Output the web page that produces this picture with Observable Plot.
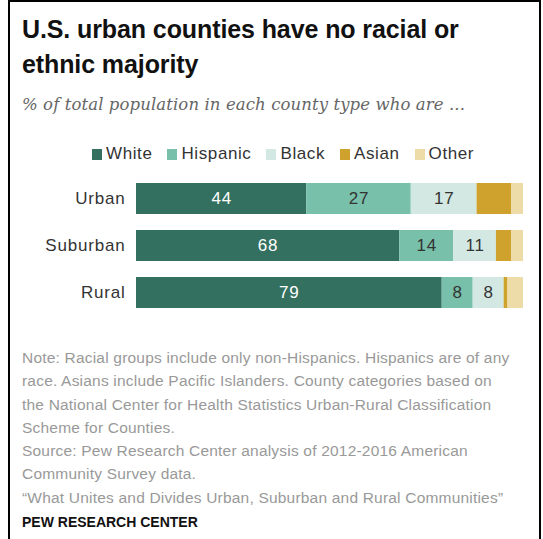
<!DOCTYPE html>
<html>
<head>
<meta charset="utf-8">
<script src="https://cdn.jsdelivr.net/npm/d3@7"></script>
<script src="https://cdn.jsdelivr.net/npm/@observablehq/plot@0.6"></script>
<style>
  html, body { margin: 0; padding: 0; background: #fff; }
  body { width: 543px; height: 539px; overflow: hidden; position: relative; font-family: "Liberation Sans", Arial, sans-serif; }
  #frame { position: absolute; left: 8px; top: 0px; width: 533px; height: 560px; border: 2px solid #000; box-sizing: border-box; }
  #title { position: absolute; left: 22px; top: 12px; font-size: 25px; font-weight: bold; line-height: 35px; color: #111; letter-spacing: -0.1px; }
  #subtitle { position: absolute; left: 22px; top: 95px; font-family: "DejaVu Serif", serif; font-style: italic; font-size: 16.5px; color: #666; letter-spacing: 0.1px; }
  #legend { position: absolute; left: 92px; top: 144px; font-size: 17px; letter-spacing: 0.6px; color: #333; display: flex; white-space: nowrap; }
  #legend .item { display: flex; align-items: center; margin-right: 15px; }
  #legend .sw { width: 10px; height: 11px; margin-right: 4px; display: inline-block; }
  #chart { position: absolute; left: 0; top: 167px; }
  #chart svg text { letter-spacing: 0.8px; }
  #notes { position: absolute; left: 22px; top: 346px; width: 520px; font-size: 15.5px; letter-spacing: 0.2px; line-height: 23.3px; color: #999; white-space: nowrap; }
  #pew { position: absolute; left: 22px; top: 514px; font-size: 14px; font-weight: bold; color: #111; }
</style>
</head>
<body>
<div id="frame"></div>
<div id="title">U.S. urban counties have no racial or<br>ethnic majority</div>
<div id="subtitle">% of total population in each county type who are ...</div>
<div id="legend"></div>
<div id="chart"></div>
<div id="notes"></div>
<div id="pew">PEW RESEARCH CENTER</div>
<script>
const counties = ["Urban", "Suburban", "Rural"];
const races = ["White", "Hispanic", "Black", "Asian", "Other"];
const colors = ["#34705f", "#78c0aa", "#d3e8e2", "#cfa22e", "#eedca8"];
const white = [44, 68, 79];
const hispanic = [27, 14, 8];
const black = [17, 11, 8];
const asian = [9, 4, 1];
const other = [3, 3, 4];
const labeled = ["White", "Hispanic", "Black"];
const noteLines = [
  "Note: Racial groups include only non-Hispanics. Hispanics are of any",
  "race. Asians include Pacific Islanders. County categories based on",
  "the National Center for Health Statistics Urban-Rural Classification",
  "Scheme for Counties.",
  "Source: Pew Research Center analysis of 2012-2016 American",
  "Community Survey data.",
  "\u201cWhat Unites and Divides Urban, Suburban and Rural Communities\u201d"
];

const series = [white, hispanic, black, asian, other];
const data = [];
counties.forEach((c, i) => {
  races.forEach((r, j) => data.push({county: c, race: r, value: series[j][i]}));
});

// legend
const legend = document.getElementById("legend");
races.forEach((r, j) => {
  const it = document.createElement("span");
  it.className = "item";
  it.innerHTML = `<span class="sw" style="background:${colors[j]}"></span>${r}`;
  legend.appendChild(it);
});

document.getElementById("notes").innerHTML = noteLines.join("<br>");

const chart = Plot.plot({
  width: 543,
  height: 157,
  marginLeft: 136,
  marginRight: 20,
  marginTop: 0,
  marginBottom: 0,
  style: {fontFamily: "Liberation Sans, Arial, sans-serif", fontSize: "17px", color: "#333", background: "transparent"},
  x: {domain: [0, 100], axis: null},
  y: {domain: counties, padding: 0.34, label: null, tickSize: 0, tickPadding: 10},
  color: {domain: races, range: colors},
  marks: [
    Plot.barX(data, Plot.stackX({x: "value", y: "county", fill: "race", order: races})),
    Plot.text(data, Plot.stackX({
      x: "value", y: "county", z: "race", order: races,
      text: d => labeled.includes(d.race) ? String(d.value) : null,
      fill: d => d.race === "White" ? "#ffffff" : "#333333",
      fontSize: 17
    })),
    Plot.axisY({tickSize: 0, tickPadding: 11, label: null, fontSize: 17, color: "#333"})
  ]
});
document.getElementById("chart").appendChild(chart);
</script>
</body>
</html>
